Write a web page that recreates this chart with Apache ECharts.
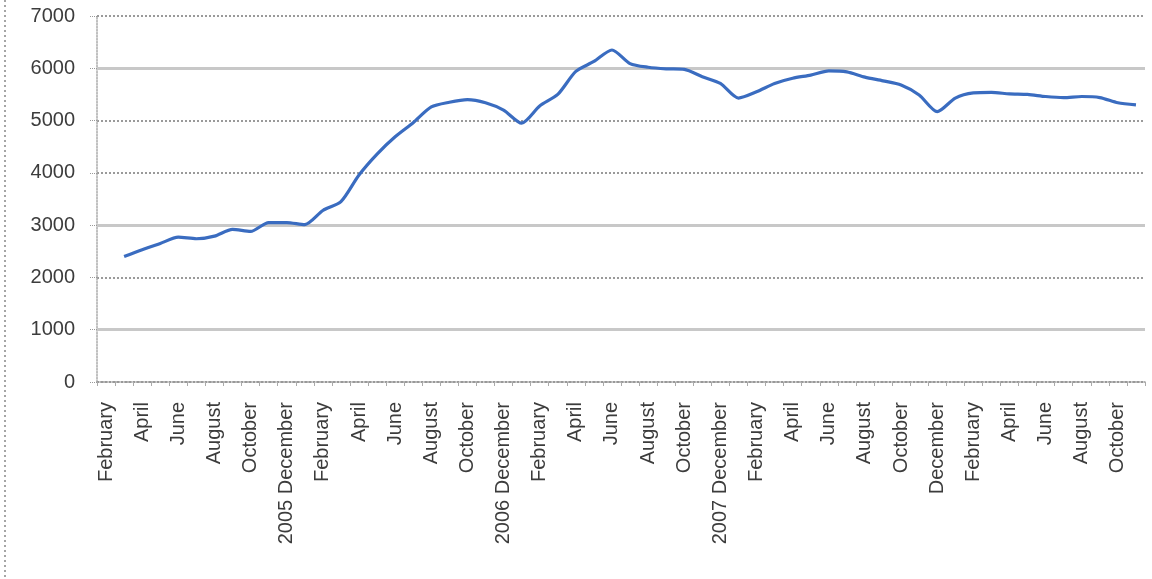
<!DOCTYPE html>
<html>
<head>
<meta charset="utf-8">
<script src="https://cdn.jsdelivr.net/npm/echarts@6/dist/echarts.min.js"></script>
<style>
html,body{margin:0;padding:0;background:#fff;}
#chart{width:1152px;height:579px;}
</style>
</head>
<body>
<div id="chart"></div>
<script>
// Category labels (monthly, Feb of year 1 .. Nov of year 5)
const months = [
  "February","March","April","May","June","July","August","September","October","November","2005 December",
  "January","February","March","April","May","June","July","August","September","October","November","2006 December",
  "January","February","March","April","May","June","July","August","September","October","November","2007 December",
  "January","February","March","April","May","June","July","August","September","October","November","December",
  "January","February","March","April","May","June","July","August","September","October","November"
];
// Values per month
const values = [
  null, 2400, 2530, 2650, 2770, 2740, 2790, 2920, 2880, 3050, 3050,
  3010, 3280, 3450, 3960, 4360, 4690, 4960, 5260, 5350, 5400, 5340, 5200,
  4950, 5280, 5500, 5940, 6130, 6350, 6090, 6020, 5990, 5980, 5840, 5710,
  5430, 5550, 5710, 5810, 5870, 5950, 5930, 5830, 5760, 5680, 5490, 5170,
  5430, 5530, 5540, 5510, 5500, 5460, 5440, 5460, 5440, 5340, 5300
];
const yTicks = [0, 1000, 2000, 3000, 4000, 5000, 6000, 7000];
const solidGridValues = [1000, 3000, 6000];

const chart = echarts.init(document.getElementById('chart'), null, {renderer: 'canvas'});
const labelColor = '#3c3c3c';
chart.setOption({
  animation: false,
  backgroundColor: '#ffffff',
  grid: {left: 97, right: 7, top: 16, bottom: 197, containLabel: false},
  graphic: [{
    type: 'line',
    shape: {x1: 5, y1: 0, x2: 5, y2: 579},
    style: {stroke: '#888', lineWidth: 1.5, lineDash: [2, 3]}
  }],
  xAxis: {
    type: 'category',
    data: months,
    boundaryGap: true,
    axisLine: {show: true, lineStyle: {color: '#999', type: 'dotted', width: 1.5}},
    axisTick: {show: true, interval: 0, length: 4, lineStyle: {color: '#aaa'}},
    axisLabel: {
      interval: 1, rotate: 90, margin: 20,
      fontFamily: 'Liberation Sans', fontSize: 20, color: labelColor
    },
    splitLine: {show: false}
  },
  yAxis: {
    type: 'value',
    min: 0, max: 7000, interval: 1000,
    axisLine: {show: true, lineStyle: {color: '#aaa', type: 'dotted', width: 1.5}},
    axisTick: {show: true, length: 7, lineStyle: {color: '#999', type: 'dotted'}},
    axisLabel: {
      margin: 22, fontFamily: 'Liberation Sans', fontSize: 20, color: labelColor,
      formatter: v => yTicks.includes(v) ? String(v) : ''
    },
    splitLine: {show: true, lineStyle: {color: '#9a9a9a', type: 'dotted', width: 2}}
  },
  series: [
    {
      type: 'line',
      z: 1,
      silent: true,
      data: months.map(() => null),
      showSymbol: false,
      lineStyle: {opacity: 0},
      markLine: {
        silent: true,
        symbol: ['none', 'none'],
        label: {show: false},
        lineStyle: {color: '#c8c8c8', type: 'solid', width: 3},
        data: solidGridValues.map(v => ({yAxis: v}))
      }
    },
    {
      type: 'line',
      z: 5,
      data: values,
      smooth: 0.25,
      showSymbol: false,
      connectNulls: false,
      lineStyle: {color: '#3a6cc0', width: 3.2},
      itemStyle: {color: '#3a6cc0'}
    }
  ]
});
</script>
</body>
</html>
